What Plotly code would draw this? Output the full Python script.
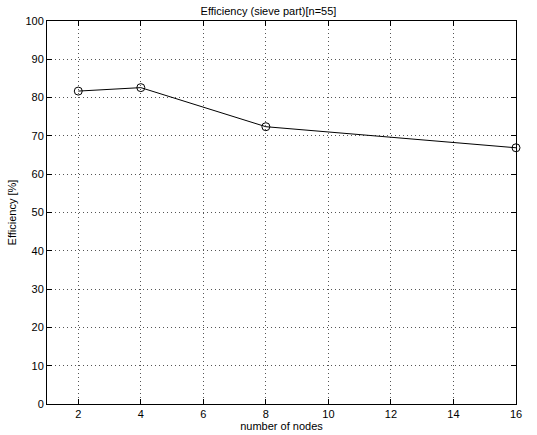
import plotly.graph_objects as go

nodes = [2, 4, 8, 16]
efficiency = [81.7, 82.6, 72.4, 66.9]
x_ticks = [2, 4, 6, 8, 10, 12, 14, 16]
y_ticks = [0, 10, 20, 30, 40, 50, 60, 70, 80, 90, 100]

fig = go.Figure()
fig.add_trace(go.Scatter(
    x=nodes, y=efficiency, mode="lines+markers",
    line=dict(color="black", width=1),
    marker=dict(symbol="circle-open", size=8, color="black", line=dict(width=1)),
    cliponaxis=False, showlegend=False,
))

axis_common = dict(
    showline=True, linecolor="black", linewidth=1, mirror="ticks",
    ticks="inside", ticklen=5, tickcolor="black",
    showgrid=True, gridcolor="#555", gridwidth=1, griddash="1px,3px",
    zeroline=False, automargin=False,
    tickfont=dict(family="Liberation Sans, Arial", size=11, color="black"),
)

fig.update_layout(
    width=537, height=435,
    margin=dict(l=47, r=21, t=21, b=31),
    paper_bgcolor="white", plot_bgcolor="white",
    title=dict(text="Efficiency (sieve part)[n=55]", x=0.5, xanchor="center",
               y=1 - 11 / 435, yanchor="middle",
               font=dict(family="Liberation Sans, Arial", size=11, color="black")),
    xaxis=dict(range=[1, 16], tickvals=x_ticks,
               title=dict(text="number of nodes", standoff=0,
                          font=dict(family="Liberation Sans, Arial", size=11, color="black")),
               **axis_common),
    yaxis=dict(range=[0, 100], tickvals=y_ticks,
               title=dict(text="Efficiency [%]", standoff=6,
                          font=dict(family="Liberation Sans, Arial", size=11, color="black")),
               **axis_common),
)

fig.write_html("out.html")
